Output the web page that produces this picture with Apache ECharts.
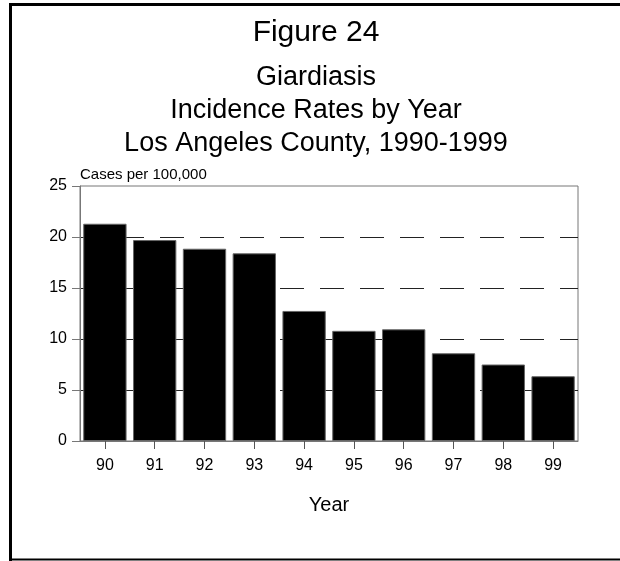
<!DOCTYPE html>
<html><head><meta charset="utf-8">
<script src="https://cdn.jsdelivr.net/npm/echarts@6/dist/echarts.min.js"></script>
<style>html,body{margin:0;padding:0;background:#fff}#c{width:620px;height:561px}</style>
</head><body><div id="c"></div>
<script>
const years = ['90','91','92','93','94','95','96','97','98','99'];
const rates = [21.3, 19.7, 18.85, 18.4, 12.75, 10.8, 10.95, 8.6, 7.5, 6.35];
const yTicks = [0, 5, 10, 15, 20, 25];
const titleLines = ['Giardiasis', 'Incidence Rates by Year', 'Los Angeles County, 1990-1999'];

const font = 'Liberation Sans, Arial, sans-serif';
const chart = echarts.init(document.getElementById('c'), null, {renderer: 'canvas'});
chart.setOption({
  animation: false,
  backgroundColor: '#fff',
  title: [
    {text: 'Figure 24', left: 311, textAlign: 'center', top: 13, textStyle: {fontFamily: font, fontSize: 30, fontWeight: 'normal', color: '#000'}},
    {text: titleLines.join('\n'), left: 311, textAlign: 'center', top: 56, textStyle: {fontFamily: font, fontSize: 27, fontWeight: 'normal', color: '#000', lineHeight: 33}}
  ],
  graphic: [
    {type: 'line', shape: {x1: 10, y1: 4.5, x2: 620, y2: 4.5}, style: {stroke: '#000', lineWidth: 3}},
    {type: 'line', shape: {x1: 10.5, y1: 3, x2: 10.5, y2: 561}, style: {stroke: '#000', lineWidth: 3}},
    {type: 'line', shape: {x1: 10, y1: 559.5, x2: 620, y2: 559.5}, style: {stroke: '#000', lineWidth: 2}}
  ],
  grid: {left: 80, right: 42, top: 186, bottom: 120, show: true, borderColor: '#777', borderWidth: 1, containLabel: false},
  xAxis: {
    type: 'category', data: years,
    name: 'Year', nameLocation: 'middle', nameGap: 54,
    nameTextStyle: {fontFamily: font, fontSize: 20, color: '#000'},
    axisLine: {lineStyle: {color: '#777', width: 1}},
    axisTick: {show: true, alignWithLabel: true, length: 8, lineStyle: {color: '#555'}},
    axisLabel: {fontFamily: font, fontSize: 16, color: '#000', margin: 17, interval: 0}
  },
  yAxis: {
    type: 'value', min: yTicks[0], max: yTicks[yTicks.length - 1], interval: 5,
    name: 'Cases per 100,000', nameLocation: 'end', nameGap: 4,
    nameTextStyle: {fontFamily: font, fontSize: 15, color: '#000', align: 'left'},
    axisLine: {show: true, lineStyle: {color: '#777'}},
    axisTick: {show: true, length: 8, lineStyle: {color: '#777'}},
    axisLabel: {fontFamily: font, fontSize: 16, color: '#000', margin: 13, padding: [6, 0, 0, 0]},
    splitLine: {show: true, showMaxLine: false, showMinLine: false, lineStyle: {color: '#222', type: [24, 16], width: 1}}
  },
  series: [{
    type: 'bar', data: rates, barCategoryGap: '13%',
    itemStyle: {color: '#000', borderColor: '#666', borderWidth: 1}
  }]
});
</script></body></html>
